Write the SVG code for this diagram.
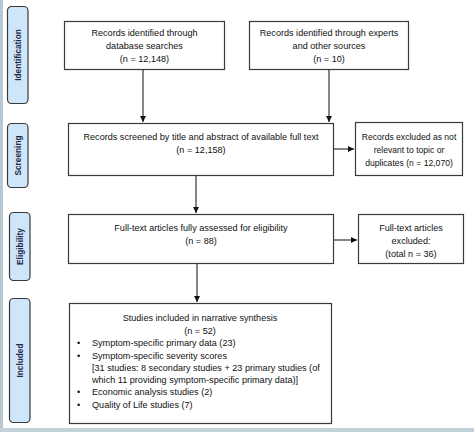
<svg xmlns="http://www.w3.org/2000/svg" width="474" height="432" viewBox="0 0 474 432">
<defs>
<marker id="ah" viewBox="0 0 10 10" refX="10" refY="5" markerWidth="6" markerHeight="6" markerUnits="userSpaceOnUse" orient="auto">
<path d="M0,0 L10,5 L0,10 z" fill="#111"/>
</marker>
</defs>
<style>
.box{fill:#fff;stroke:#3a3a3a;stroke-width:1.2}
.lab{fill:#cfe6fa;stroke:#3a3a3a;stroke-width:1.2}
.t{font-family:"Liberation Sans",Arial,sans-serif;font-size:9.1px;fill:#111}
.c{text-anchor:middle}
.sm{font-size:8.6px}
.s{font-family:"Liberation Sans",Arial,sans-serif;font-size:8.3px;font-weight:bold;fill:#1d2a48;text-anchor:middle}
.ln{stroke:#222;stroke-width:1.1;fill:none}
</style>
<rect x="0" y="0" width="474" height="432" fill="#fff"/>
<rect x="0" y="0" width="3" height="432" fill="#b8c8d3"/>
<rect x="0" y="428" width="474" height="4" fill="#c3d1d9"/>

<g id="stage-identification">
<rect class="lab" x="7.5" y="6.5" width="20.5" height="97" rx="4"/>
<text class="s" transform="translate(20.8,55) rotate(-90)">Identification</text>
</g>
<g id="stage-screening">
<rect class="lab" x="7.5" y="123.5" width="20.5" height="64" rx="4"/>
<text class="s" transform="translate(20.8,155.5) rotate(-90)">Screening</text>
</g>
<g id="stage-eligibility">
<rect class="lab" x="9.5" y="212.5" width="20.5" height="68" rx="4"/>
<text class="s" transform="translate(22.8,246.5) rotate(-90)">Eligibility</text>
</g>
<g id="stage-included">
<rect class="lab" x="9.5" y="298.5" width="20.5" height="124" rx="4"/>
<text class="s" transform="translate(22.8,360.5) rotate(-90)">Included</text>
</g>

<g id="connectors">
<line class="ln" x1="143" y1="70" x2="143" y2="122" marker-end="url(#ah)"/>
<line class="ln" x1="329" y1="70" x2="329" y2="122" marker-end="url(#ah)"/>
<line class="ln" x1="334" y1="149" x2="354" y2="149" marker-end="url(#ah)"/>
<line class="ln" x1="196" y1="176" x2="196" y2="213" marker-end="url(#ah)"/>
<line class="ln" x1="334" y1="240" x2="357" y2="240" marker-end="url(#ah)"/>
<line class="ln" x1="197" y1="264" x2="197" y2="302" marker-end="url(#ah)"/>
</g>

<g id="database">
<rect class="box" x="64.5" y="21.5" width="160" height="48"/>
<text class="t c" x="144.5" y="36">Records identified through</text>
<text class="t c" x="144.5" y="49">database searches</text>
<text class="t c" x="144.5" y="62">(n = 12,148)</text>
</g>
<g id="experts">
<rect class="box" x="249.5" y="21.5" width="159" height="48"/>
<text class="t c" x="329" y="36">Records identified through experts</text>
<text class="t c" x="329" y="49">and other sources</text>
<text class="t c" x="329" y="62">(n = 10)</text>
</g>
<g id="screened">
<rect class="box" x="68.5" y="123.5" width="265" height="52"/>
<text class="t c" x="201" y="140">Records screened by title and abstract of available full text</text>
<text class="t c" x="201" y="153">(n = 12,158)</text>
</g>
<g id="excluded-records">
<rect class="box" x="355.5" y="122.5" width="107" height="53"/>
<text class="t c sm" x="409" y="140">Records excluded as not</text>
<text class="t c sm" x="409" y="153">relevant to topic or</text>
<text class="t c sm" x="409" y="166">duplicates (n = 12,070)</text>
</g>
<g id="eligibility">
<rect class="box" x="68.5" y="214.5" width="265" height="49"/>
<text class="t c" x="201" y="231">Full-text articles fully assessed for eligibility</text>
<text class="t c" x="201" y="244">(n = 88)</text>
</g>
<g id="excluded-fulltext">
<rect class="box" x="358.5" y="214.5" width="105" height="49"/>
<text class="t c" x="411" y="231">Full-text articles</text>
<text class="t c" x="411" y="244">excluded:</text>
<text class="t c" x="411" y="257">(total n = 36)</text>
</g>
<g id="included">
<rect class="box" x="69.5" y="303.5" width="262" height="120"/>
<text class="t c" x="200" y="321">Studies included in narrative synthesis</text>
<text class="t c" x="200" y="334">(n = 52)</text>
<text class="t" x="77" y="346">•</text>
<text class="t" x="92" y="346">Symptom-specific primary data (23)</text>
<text class="t" x="77" y="359">•</text>
<text class="t" x="92" y="359">Symptom-specific severity scores</text>
<text class="t" x="92" y="371">[31 studies: 8 secondary studies + 23 primary studies (of</text>
<text class="t" x="92" y="383">which 11 providing symptom-specific primary data)]</text>
<text class="t" x="77" y="395">•</text>
<text class="t" x="92" y="395">Economic analysis studies (2)</text>
<text class="t" x="77" y="408">•</text>
<text class="t" x="92" y="408">Quality of Life studies (7)</text>
</g>
</svg>
